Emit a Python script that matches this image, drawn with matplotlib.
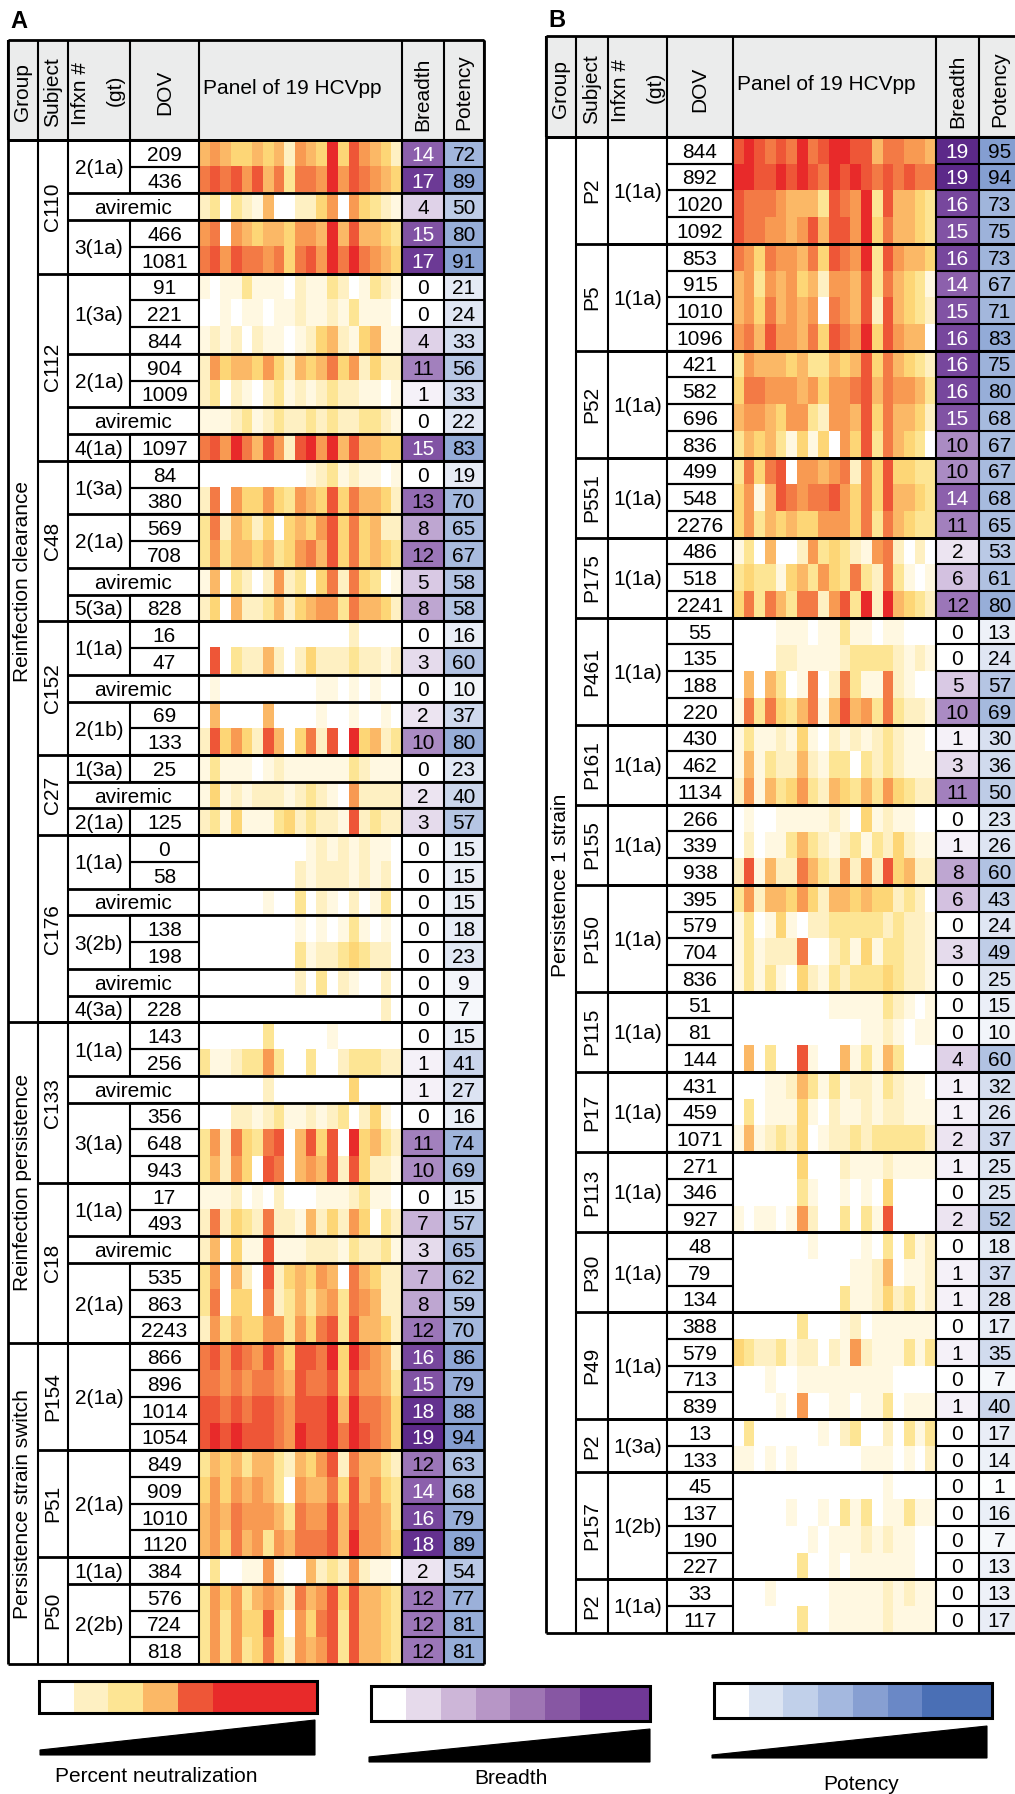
import numpy as np
import matplotlib
matplotlib.use("Agg")
import matplotlib.pyplot as plt
from matplotlib.colors import ListedColormap, LinearSegmentedColormap
from matplotlib.patches import Rectangle, Polygon

plt.rcParams['font.family'] = ['Liberation Sans', 'DejaVu Sans']

# ---------------- panel A ----------------
a_groups = ['Reinfection clearance', 'Reinfection persistence', 'Persistence strain switch']
a_group_rows = [33, 12, 12]
a_subjects = ['C110', 'C112', 'C48', 'C152', 'C27', 'C176', 'C133', 'C18', 'P154', 'P51', 'P50']
a_subject_rows = [5, 7, 6, 5, 3, 7, 6, 6, 4, 4, 4]
a_infxn = ['2(1a)', 'aviremic', '3(1a)',
           '1(3a)', '2(1a)', 'aviremic', '4(1a)',
           '1(3a)', '2(1a)', 'aviremic', '5(3a)',
           '1(1a)', 'aviremic', '2(1b)',
           '1(3a)', 'aviremic', '2(1a)',
           '1(1a)', 'aviremic', '3(2b)', 'aviremic', '4(3a)',
           '1(1a)', 'aviremic', '3(1a)',
           '1(1a)', 'aviremic', '2(1a)',
           '2(1a)', '2(1a)', '1(1a)', '2(2b)']
a_infxn_rows = [2, 1, 2, 3, 2, 1, 1, 2, 2, 1, 1, 2, 1, 2, 1, 1, 1,
                2, 1, 2, 1, 1, 2, 1, 3, 2, 1, 3, 4, 4, 1, 3]
a_dov = ['209', '436', '', '466', '1081',
         '91', '221', '844', '904', '1009', '', '1097',
         '84', '380', '569', '708', '', '828',
         '16', '47', '', '69', '133',
         '25', '', '125',
         '0', '58', '', '138', '198', '', '228',
         '143', '256', '', '356', '648', '943',
         '17', '493', '', '535', '863', '2243',
         '866', '896', '1014', '1054',
         '849', '909', '1010', '1120',
         '384', '576', '724', '818']
a_breadth = [14, 17, 4, 15, 17, 0, 0, 4, 11, 1, 0, 15, 0, 13, 8, 12, 5, 8,
             0, 3, 0, 2, 10, 0, 2, 3, 0, 0, 0, 0, 0, 0, 0, 0, 1, 1, 0, 11, 10,
             0, 7, 3, 7, 8, 12, 16, 15, 18, 19, 12, 14, 16, 18, 2, 12, 12, 12]
a_potency = [72, 89, 50, 80, 91, 21, 24, 33, 56, 33, 22, 83, 19, 70, 65, 67, 58, 58,
             16, 60, 10, 37, 80, 23, 40, 57, 15, 15, 15, 18, 23, 9, 7,
             15, 41, 27, 16, 74, 69, 15, 57, 65, 62, 59, 70,
             86, 79, 88, 94, 63, 68, 79, 89, 54, 77, 81, 81]
# neutralization level (0 = none ... 9 = max) of the 19 HCVpp, one string per row
a_neut = [
    "5654454526549486542", "7878685737769687654", "2303215002246064321",
    "6706545546659585543", "7868776747869797654",
    "1011311102113201321", "0010110112112131110", "1212021101245214511",
    "2645546425457462422", "2302102312123221101", "1112312322323223321",
    "7869758628969585544",
    "0000000000123121101", "2706446436548475542", "3725424045468474522",
    "3635545346758474543", "1503202623047274301", "2405223524566375542",
    "0000000000000020000", "0803225202422232212", "0100000000011010100",
    "0500005000010010010", "2846428504728094523",
    "1311101211111132111", "1412122212321062222", "2314111342322182322",
    "0000000000121212110", "0000000002122212120", "0000001003021020130",
    "0000000001010131010", "0000000003122343220", "0000000002030210020",
    "0000000000000000020",
    "0000003000001000000", "3112336300300233322", "0000002000000040000",
    "0002212311212302410", "3627437805848094532", "3526408705658284221",
    "1112010200011123110", "2724327221524264032", "2504118111222132231",
    "3605208245465075422", "3704407235356376522", "2635446636478385542",
    "7868768648879497652", "7767677658778486653", "8878788768889597764",
    "8989888769889798764",
    "3545355325468275532", "4646565306557485643", "5657666537668586653",
    "5647563657778596654",
    "0300116100523262110", "3646356527568485543", "3636448406478385543",
    "3636347426568385543",
]

# ---------------- panel B ----------------
b_groups = ['Persistence 1 strain']
b_group_rows = [56]
b_subjects = ['P2', 'P5', 'P52', 'P551', 'P175', 'P461', 'P161', 'P155', 'P150',
              'P115', 'P17', 'P113', 'P30', 'P49', 'P2', 'P157', 'P2']
b_subject_rows = [4, 4, 4, 3, 3, 4, 3, 3, 4, 3, 3, 3, 3, 4, 2, 4, 2]
b_infxn = ['1(1a)'] * 14 + ['1(3a)', '1(2b)', '1(1a)']
b_infxn_rows = b_subject_rows
b_dov = ['844', '892', '1020', '1092', '853', '915', '1010', '1096',
         '421', '582', '696', '836', '499', '548', '2276', '486', '518', '2241',
         '55', '135', '188', '220', '430', '462', '1134', '266', '339', '938',
         '395', '579', '704', '836', '51', '81', '144', '431', '459', '1071',
         '271', '346', '927', '48', '79', '134', '388', '579', '713', '839',
         '13', '133', '45', '137', '190', '227', '33', '117']
b_breadth = [19, 19, 16, 15, 16, 14, 15, 16, 16, 16, 15, 10, 10, 14, 11, 2, 6, 12,
             0, 0, 5, 10, 1, 3, 11, 0, 1, 8, 6, 0, 3, 0, 0, 0, 4, 1, 1, 2,
             1, 0, 2, 0, 1, 1, 0, 1, 0, 1, 0, 0, 0, 0, 0, 0, 0, 0]
b_potency = [95, 94, 73, 75, 73, 67, 71, 83, 75, 80, 68, 67, 67, 68, 65, 53, 61, 80,
             13, 24, 57, 69, 30, 36, 50, 23, 26, 60, 43, 24, 49, 25, 15, 10, 60,
             32, 26, 37, 25, 25, 52, 18, 37, 28, 17, 35, 7, 40, 17, 14, 1, 16, 7, 13,
             13, 17]
b_neut = [
    "8987879789988577665", "9988989879898787877", "8777655538769385543",
    "8776656858869475543",
    "7647665748769386554", "5636564526658375431", "5647565607658285432",
    "6758665748769486550",
    "3655545335458475432", "4776665646678576653", "5665466326658475542",
    "3545314140648375430",
    "3747806656727484433", "4615876778647485543", "4635454466647375433",
    "1305002634321672020", "3433145364373273101", "4737537726839295432",
    "0000111011311011000", "0000221111233332121", "0505301702731172100",
    "1737435715856373221",
    "1311214102121232110", "1513225213303232111", "2615346325435364322",
    "0100111112104121100", "0201135321231324211", "2815227532626284522",
    "3625546425545442320", "1301410223333323221", "1312227002314133221",
    "1313104213233343221",
    "0000000001111132101", "0000000000001121011", "0503008100513153000",
    "0001125313122132110", "0301114102112122111", "1512324012232333332",
    "0000004000211121111", "0000003100101040000", "1011016200303180000",
    "0000000100001030312", "0000000000011250112", "0000000000311242312",
    "0000003000120111111", "4322312202162111313", "0001001111111110000",
    "0000106001101130111",
    "0300000010230020313", "1101010000001110102",
    "0000000000000010000", "0000010010313011311", "0000000101112121100",
    "0000003001011111100",
    "0001000001111121211", "0000003001111121111",
]

# legend cells
neut_legend = [0, 2, 3, 5, 8, 9, 9, 9]
breadth_legend = ['#ffffff', '#e6daeb', '#cdb6d8', '#b796c6', '#9f76b4', '#8757a3', '#703896', '#703896']
potency_legend = ['#ffffff', '#dce4f2', '#c1d0ea', '#a4b8df', '#879fd2', '#6a88c6', '#4a6fb5', '#4a6fb5']

neut_cmap = ListedColormap(['#ffffff', '#fff8e1', '#fef0c2', '#fde594', '#fdd676',
                            '#fbb866', '#f89a52', '#f37a45', '#ee5637', '#e82a2a'])
breadth_cmap = LinearSegmentedColormap.from_list(
    'breadth', [(0, '#ffffff'), (2 / 19, '#ece4f1'), (6 / 19, '#d3c1e0'),
                (10 / 19, '#aa8bc3'), (14 / 19, '#8d61ad'), (17 / 19, '#6d3b96'), (1, '#5c2989')])
potency_cmap = LinearSegmentedColormap.from_list('potency', ['#ffffff', '#7e9acf'])

W, H = 1015, 1794
fig = plt.figure(figsize=(W / 100, H / 100), dpi=100)
ax = fig.add_axes([0, 0, 1, 1])

FS = 15
LW = 1.5
LW2 = 2.0
BASE = 7.4  # baseline offset from row centre (half cap height)


def spans(counts):
    out, s = [], 0
    for c in counts:
        out.append((s, s + c))
        s += c
    return out


def draw_panel(letter, lxy, cols, top, hb, rh, hdr_y, groups, group_rows, subjects, subject_rows,
               infxn, infxn_rows, dov, breadth, potency, neut):
    n = len(dov)
    assert len(neut) == n and len(breadth) == n and len(potency) == n
    assert sum(group_rows) == n and sum(subject_rows) == n and sum(infxn_rows) == n
    bot = hb + n * rh
    x0, xs, xi, xd, xp, xb, xo, x1 = cols

    def ry(i):
        return hb + i * rh

    ax.text(lxy[0], lxy[1], letter, fontsize=17, fontweight='bold', ha='left', va='baseline')

    # header
    ax.add_patch(Rectangle((x0, top), x1 - x0, hb - top, facecolor='#ebecec', edgecolor='none', zorder=1))
    hkw = dict(rotation=90, ha='center', va='center', fontsize=FS, zorder=5)
    ax.text((x0 + xs) / 2, hdr_y, 'Group', **hkw)
    ax.text((xs + xi) / 2, hdr_y, 'Subject', **hkw)
    ax.text(xi + 13, hdr_y + 2, 'Infxn #', **hkw)
    ax.text(xi + 47, hdr_y - 2, '(gt)', **hkw)
    ax.text((xd + xp) / 2, hdr_y, 'DOV', **hkw)
    ax.text((xb + xo) / 2, hdr_y + 2, 'Breadth', **hkw)
    ax.text((xo + x1) / 2, hdr_y, 'Potency', **hkw)
    ax.text(xp + 4, hdr_y - 4, 'Panel of 19 HCVpp', ha='left', va='center', fontsize=FS, zorder=5)

    # cells
    grid = np.array([[int(c) for c in row] for row in neut])
    ax.imshow(grid, cmap=neut_cmap, vmin=-0.5, vmax=9.5, extent=(xp, xb, bot, hb),
              aspect='auto', interpolation='nearest', zorder=2)
    ax.imshow(np.array(breadth, dtype=float)[:, None], cmap=breadth_cmap, vmin=0, vmax=19,
              extent=(xb, xo, bot, hb), aspect='auto', interpolation='nearest', zorder=2)
    ax.imshow(np.array(potency, dtype=float)[:, None], cmap=potency_cmap, vmin=0, vmax=100,
              extent=(xo, x1, bot, hb), aspect='auto', interpolation='nearest', zorder=2)

    # lines
    kw = dict(color='black', lw=LW, zorder=4)
    kw2 = dict(color='black', lw=LW2, zorder=4)
    ax.hlines([top, hb], x0, x1, **kw2)
    ax.vlines(cols, top, hb, **kw)
    ax.vlines([xs, xi, xp, xb, xo], hb, bot, **kw)
    ax.vlines([x0, x1], top, bot, **kw2)
    ax.hlines(bot, x0, x1, **kw2)
    for i, d in enumerate(dov):
        if d:
            ax.vlines(xd, ry(i), ry(i + 1), **kw)
            ax.hlines([ry(i), ry(i + 1)], xd, xp, **kw)
    ax.hlines([ry(i) for i in range(n)], xb, x1, **kw)
    for s, e in spans(infxn_rows):
        ax.hlines(ry(s), xi, x1, **kw2)
    for s, e in spans(subject_rows):
        ax.hlines(ry(s), xs, x1, **kw2)
    for s, e in spans(group_rows):
        ax.hlines(ry(s), x0, x1, **kw2)

    # labels
    for (s, e), g in zip(spans(group_rows), groups):
        ax.text((x0 + xs) / 2, (ry(s) + ry(e)) / 2, g, rotation=90, ha='center', va='center',
                fontsize=FS, zorder=5)
    for (s, e), sub in zip(spans(subject_rows), subjects):
        ax.text((xs + xi) / 2, (ry(s) + ry(e)) / 2, sub, rotation=90, ha='center', va='center',
                fontsize=FS, zorder=5)
    for (s, e), inf in zip(spans(infxn_rows), infxn):
        yc = (ry(s) + ry(e)) / 2 + BASE
        if inf == 'aviremic':
            ax.text((xi + xp) / 2, yc, inf, ha='center', va='baseline', fontsize=FS, zorder=5)
        else:
            ax.text((xi + xd) / 2, yc, inf, ha='center', va='baseline', fontsize=FS, zorder=5)
    for i, (d, b, p) in enumerate(zip(dov, breadth, potency)):
        yc = ry(i) + rh / 2 + BASE
        if d:
            ax.text((xd + xp) / 2, yc, d, ha='center', va='baseline', fontsize=FS, zorder=5)
        ax.text((xb + xo) / 2, yc, str(b), ha='center', va='baseline', fontsize=FS, zorder=5,
                color='white' if b >= 14 else 'black')
        ax.text((xo + x1) / 2, yc, str(p), ha='center', va='baseline', fontsize=FS, zorder=5)


draw_panel('A', (10, 28), [8, 38, 68, 130, 199, 402, 444, 484], 40, 140, 26.74, 92,
           a_groups, a_group_rows, a_subjects, a_subject_rows, a_infxn, a_infxn_rows,
           a_dov, a_breadth, a_potency, a_neut)
draw_panel('B', (548, 27), [546, 576, 608, 667, 733, 936, 979, 1020], 36, 137, 26.71, 89,
           b_groups, b_group_rows, b_subjects, b_subject_rows, b_infxn, b_infxn_rows,
           b_dov, b_breadth, b_potency, b_neut)


# ---------------- legends ----------------
def legend_bar(x0, x1, y0, y1, img, cmap, vmin, vmax, tri, label, label_xy):
    ax.imshow(np.array(img, dtype=float)[None, :], cmap=cmap, vmin=vmin, vmax=vmax,
              extent=(x0, x1, y1, y0), aspect='auto', interpolation='nearest', zorder=2)
    ax.add_patch(Rectangle((x0, y0), x1 - x0, y1 - y0, facecolor='none', edgecolor='black',
                           lw=2.2, zorder=4))
    ax.add_patch(Polygon(tri, closed=True, facecolor='black', edgecolor='black', lw=0.8, zorder=4))
    ax.text(label_xy[0], label_xy[1], label, ha='center', va='center', fontsize=FS)


legend_bar(39, 317, 1681, 1713, neut_legend, neut_cmap, -0.5, 9.5,
           [(40, 1750), (315, 1720), (315, 1755), (40, 1755)], 'Percent neutralization', (156, 1777))
legend_bar(371, 650, 1686, 1721, range(8), ListedColormap(breadth_legend), -0.5, 7.5,
           [(369, 1757), (650, 1729), (650, 1762), (369, 1762)], 'Breadth', (511, 1779))
legend_bar(714, 992, 1683, 1718, range(8), ListedColormap(potency_legend), -0.5, 7.5,
           [(712, 1755), (987, 1726), (987, 1758), (712, 1758)], 'Potency', (861, 1784))

ax.set_xlim(0, W)
ax.set_ylim(H, 0)
ax.set_aspect('auto')
ax.axis('off')
fig.savefig('out.png', dpi=100)
